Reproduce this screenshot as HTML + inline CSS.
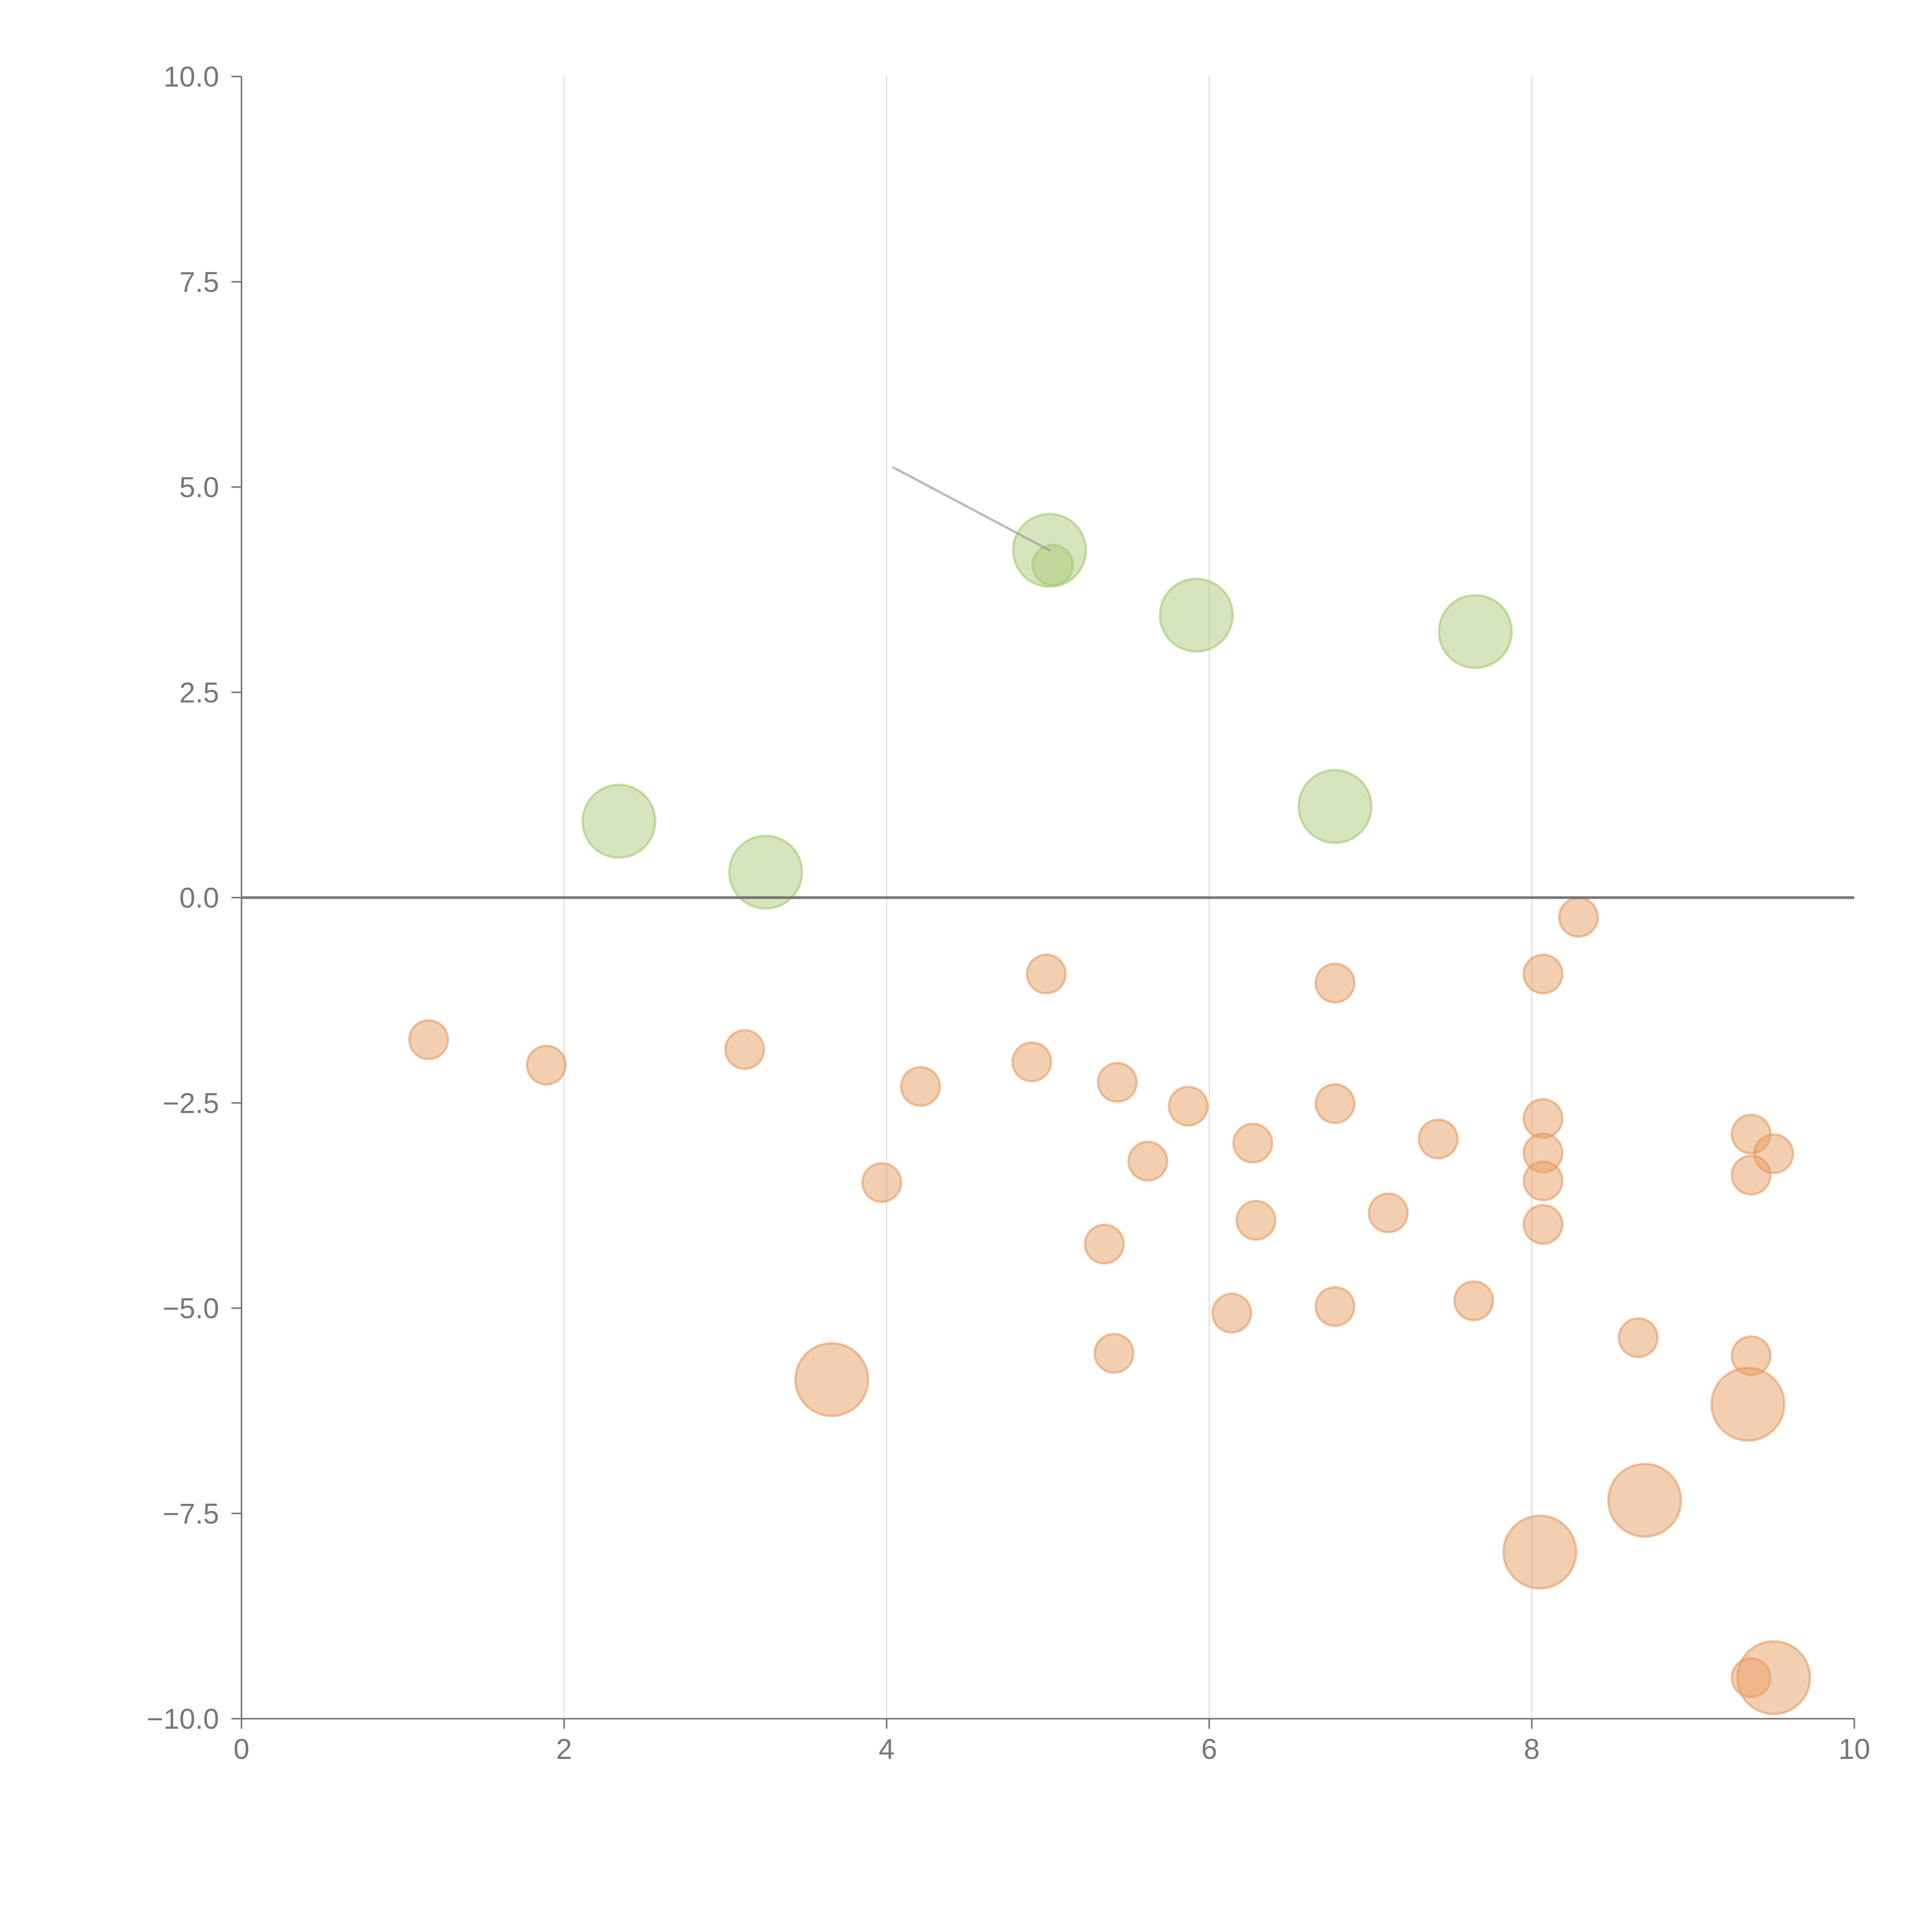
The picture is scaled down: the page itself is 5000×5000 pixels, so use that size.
<!DOCTYPE html>
<html><head><meta charset="utf-8"><style>html,body{margin:0;padding:0;background:#fff}svg{display:block}</style></head>
<body>
<svg id="chart" width="5000" height="5000" viewBox="0 0 5000 5000" xmlns="http://www.w3.org/2000/svg" font-family="Liberation Sans, Arial, sans-serif">
<g id="grid"></g>
<g id="marks"></g>
<g id="axes"></g>
</svg>
<script>
const xTicks = [0, 2, 4, 6, 8, 10];
const xTickLabels = ["0", "2", "4", "6", "8", "10"];
const yTicks = [10, 7.5, 5, 2.5, 0, -2.5, -5, -7.5, -10];
const yTickLabels = ["10.0", "7.5", "5.0", "2.5", "0.0", "\u22122.5", "\u22125.0", "\u22127.5", "\u221210.0"];
const greenX = [2.34, 3.25, 5.01, 5.92, 7.65, 6.78, 5.03];
const greenY = [0.93, 0.31, 4.23, 3.44, 3.24, 1.11, 4.05];
const greenBig = [1, 1, 1, 1, 1, 1, 0];
const orangeX = [1.16, 1.89, 3.12, 4.99, 4.90, 4.21, 3.97, 5.43, 5.87, 5.62, 6.27, 6.29, 5.35, 6.14, 5.41, 6.78, 6.78, 6.78, 7.11, 7.42, 7.64, 8.29, 8.07, 8.07, 8.07, 8.07, 8.07, 8.66, 9.36, 9.50, 9.36, 9.36, 9.36, 3.66, 9.34, 8.70, 8.05, 9.50];
const orangeY = [-1.73, -2.04, -1.85, -0.93, -2.00, -2.30, -3.47, -2.25, -2.54, -3.21, -2.99, -3.93, -4.22, -5.06, -5.55, -1.04, -2.51, -4.98, -3.84, -2.94, -4.91, -0.24, -0.93, -2.69, -3.11, -3.45, -3.98, -5.36, -2.88, -3.12, -3.38, -5.58, -9.50, -5.87, -6.17, -7.34, -7.97, -9.50];
const orangeBig = [0,0,0,0,0,0,0,0,0,0,0,0,0,0,0,0,0,0,0,0,0,0,0,0,0,0,0,0,0,0,0,0,0,1,1,1,1,1];
const annoFrom = [4.04, 5.24];
const annoTo = [5.01, 4.23];

const X0 = 625, X1 = 4799, Y0 = 4448, Y1 = 198;
const xs = v => X0 + (v - 0) / 10 * (X1 - X0);
const ys = v => Y0 - (v + 10) / 20 * (Y0 - Y1);
const NS = "http://www.w3.org/2000/svg";
function mk(tag, attrs, parent) {
  const e = document.createElementNS(NS, tag);
  for (const k in attrs) e.setAttribute(k, attrs[k]);
  parent.appendChild(e);
  return e;
}
const grid = document.getElementById('grid');
const marks = document.getElementById('marks');
const axes = document.getElementById('axes');

xTicks.forEach((t, i) => {
  if (t > 0 && t < 10) {
    const g = mk('line', {x1: xs(t), x2: xs(t), y1: Y1, y2: Y0, stroke: '#dcdcdc', 'stroke-width': 3}, grid);
    
    
  }
  const tk = mk('line', {x1: xs(t), x2: xs(t), y1: Y0, y2: Y0 + 26, stroke: '#777', 'stroke-width': 4}, axes);
  
  
  const tx = mk('text', {x: xs(t), y: Y0 + 104, 'font-size': 74, fill: '#777', 'text-anchor': 'middle'}, axes);
  tx.textContent = xTickLabels[i];
  
  
});
yTicks.forEach((t, i) => {
  const tk = mk('line', {x1: X0 - 26, x2: X0, y1: ys(t), y2: ys(t), stroke: '#777', 'stroke-width': 4}, axes);
  
  
  const tx = mk('text', {x: X0 - 58, y: ys(t) + 26, 'font-size': 74, fill: '#777', 'text-anchor': 'end'}, axes);
  tx.textContent = yTickLabels[i];
  
  
});
const zl = mk('line', {x1: X0, x2: X1, y1: ys(0), y2: ys(0), stroke: '#777', 'stroke-width': 7}, axes);


const ya = mk('line', {x1: X0, x2: X0, y1: Y1, y2: Y0, stroke: '#777', 'stroke-width': 4}, axes);


const xa = mk('line', {x1: X0, x2: X1, y1: Y0, y2: Y0, stroke: '#777', 'stroke-width': 4}, axes);



orangeX.forEach((v, i) => {
  const c = mk('circle', {cx: xs(v), cy: ys(orangeY[i]), r: orangeBig[i] ? 94 : 50, fill: 'rgba(232,160,100,0.5)', stroke: 'rgba(225,150,90,0.55)', 'stroke-width': 6}, marks);
  
  
});
greenX.forEach((v, i) => {
  const c = mk('circle', {cx: xs(v), cy: ys(greenY[i]), r: greenBig[i] ? 94 : 52, fill: 'rgba(170,200,120,0.48)', stroke: 'rgba(165,200,110,0.6)', 'stroke-width': 6}, marks);
  
  
});
const an = mk('line', {x1: xs(annoFrom[0]), y1: ys(annoFrom[1]), x2: xs(annoTo[0]), y2: ys(annoTo[1]), stroke: 'rgba(150,150,150,0.65)', 'stroke-width': 6, 'stroke-linecap': 'round'}, marks);


</script>
</body></html>
